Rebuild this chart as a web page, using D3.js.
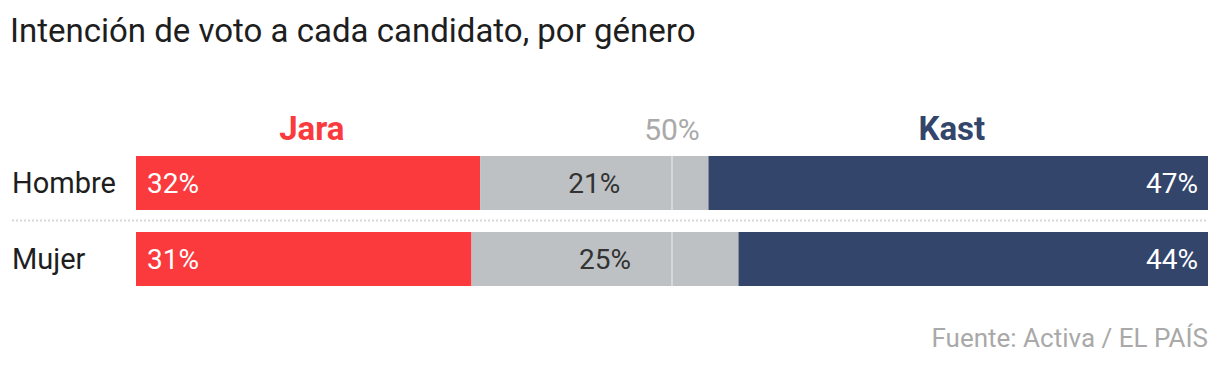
<!DOCTYPE html>
<html lang="es">
<head>
<meta charset="UTF-8">
<script src="https://d3js.org/d3.v7.min.js"></script>
<title>Intención de voto</title>
<style>
  body { margin: 0; background: #fff; }
  text { font-family: Roboto, "Liberation Sans", sans-serif; }
</style>
</head>
<body>
<svg width="1220" height="370"></svg>
<script>
// datos
const groups = ['Hombre', 'Mujer'];
const candidates = ['Jara', 'Indecisos', 'Kast'];
const jara = [32.1, 31.3];
const undecided = [21.3, 24.9];
const kast = [46.6, 43.8];

const colors = ['#fb3a3e', '#bdc1c4', '#33456b'];
const labelColors = ['#fff', '#333', '#fff'];

const svg = d3.select('svg');
const left = 136, right = 1208;

const x = d3.scaleLinear().domain([0, 100]).range([left, right]);
const y = d3.scaleBand().domain(groups).range([156, 286]).paddingInner(22 / 76);

// tabla para stack
const table = groups.map((g, i) => ({ group: g, Jara: jara[i], Indecisos: undecided[i], Kast: kast[i] }));
const series = d3.stack().keys(candidates)(table);

// titulo
svg.append('text')
  .attr('x', 10).attr('y', 42)
  .attr('font-size', 33).attr('fill', '#1e1e1e')
  .text('Intención de voto a cada candidato, por género');

// cabeceras
svg.append('text').attr('x', x(16.4)).attr('y', 140)
  .attr('text-anchor', 'middle').attr('font-size', 33).attr('font-weight', 'bold')
  .attr('fill', colors[0]).text('Jara');
svg.append('text').attr('x', x(50)).attr('y', 140)
  .attr('text-anchor', 'middle').attr('font-size', 30)
  .attr('fill', '#a9a9a9').text('50%');
svg.append('text').attr('x', x(76.1)).attr('y', 140)
  .attr('text-anchor', 'middle').attr('font-size', 33).attr('font-weight', 'bold')
  .attr('fill', colors[2]).text('Kast');

// barras
const layer = svg.selectAll('.layer')
  .data(series)
  .enter().append('g')
  .attr('class', 'layer')
  .attr('fill', (d, i) => colors[i]);

layer.selectAll('rect')
  .data(d => d)
  .enter().append('rect')
  .attr('x', d => x(d[0]))
  .attr('y', d => y(d.data.group))
  .attr('width', d => x(d[1]) - x(d[0]))
  .attr('height', y.bandwidth());

// etiquetas de valor
series.forEach((s, i) => {
  svg.selectAll('.lbl' + i)
    .data(s)
    .enter().append('text')
    .attr('class', 'lbl' + i)
    .attr('x', d => i === 0 ? x(d[0]) + 11 : i === 1 ? (x(d[0]) + x(d[1])) / 2 : x(d[1]) - 10)
    .attr('y', d => y(d.data.group) + y.bandwidth() / 2)
    .attr('dy', '0.36em')
    .attr('text-anchor', i === 0 ? 'start' : i === 1 ? 'middle' : 'end')
    .attr('font-size', 28)
    .attr('fill', labelColors[i])
    .text(d => Math.round(d[1] - d[0]) + '%');
});

// linea del 50%
groups.forEach(g => {
  svg.append('line')
    .attr('x1', x(50)).attr('x2', x(50))
    .attr('y1', y(g)).attr('y2', y(g) + y.bandwidth())
    .attr('stroke', '#dfe1e3').attr('stroke-width', 1.5);
});

// separador punteado
svg.append('line')
  .attr('x1', 12).attr('x2', right)
  .attr('y1', 220.5).attr('y2', 220.5)
  .attr('stroke', '#d6d6d6').attr('stroke-width', 2)
  .attr('stroke-dasharray', '2,2');

// nombres de grupo
svg.selectAll('.grp')
  .data(groups)
  .enter().append('text')
  .attr('x', 12)
  .attr('y', d => y(d) + y.bandwidth() / 2)
  .attr('dy', '0.36em')
  .attr('font-size', 29)
  .attr('fill', '#1e1e1e')
  .text(d => d);

// fuente
svg.append('text')
  .attr('x', right).attr('y', 347)
  .attr('text-anchor', 'end').attr('font-size', 26)
  .attr('fill', '#a9a9a9')
  .text('Fuente: Activa / EL PAÍS');
</script>
</body>
</html>
